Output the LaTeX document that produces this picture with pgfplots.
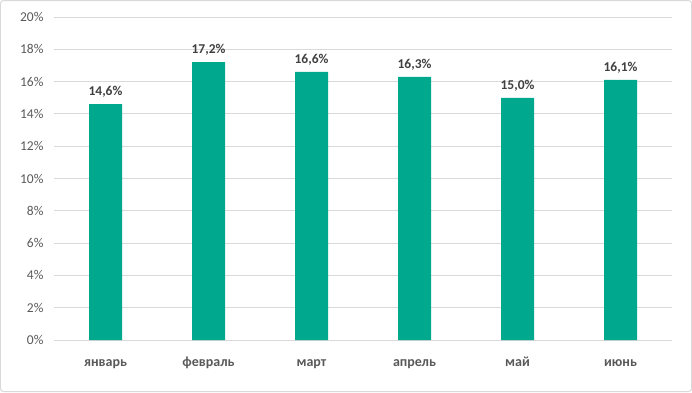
\documentclass[border=0pt]{standalone}
\usepackage{pgfplots}
\pgfplotsset{compat=1.18}
\usepackage{fontspec}
\setmainfont{Carlito}
\definecolor{barc}{RGB}{0,168,142}
\definecolor{tickc}{RGB}{89,89,89}
\definecolor{labc}{RGB}{64,64,64}
\definecolor{gridc}{RGB}{217,217,217}
\begin{document}
\begin{tikzpicture}
\begin{axis}[
  scale only axis, width=618pt, height=323pt,
  at={(0,0)}, anchor=south west,
  xmin=-0.5, xmax=5.5, ymin=0, ymax=20,
  xtick={0,1,2,3,4,5},
  xticklabels={январь,февраль,март,апрель,май,июнь},
  ytick={0,2,4,6,8,10,12,14,16,18,20},
  yticklabel={\pgfmathprintnumber{\tick}\%},
  /pgf/number format/assume math mode=true,
  major tick length=0pt,
  axis line style={draw=none},
  ymajorgrids=true, xmajorgrids=false,
  y grid style={draw=gridc, line width=0.9pt},
  yticklabel style={font=\fontsize{13.5}{15}\selectfont, text=tickc, xshift=-7pt},
  xticklabel style={font=\fontsize{14}{16}\selectfont\bfseries, text=tickc, anchor=base, yshift=-26pt},
  clip=false,
]
\addplot[ybar, bar width=33pt, fill=barc, draw=none,
  nodes near coords={\pgfmathprintnumber[fixed,fixed zerofill,precision=1,use comma]{\pgfplotspointmeta}\%},
  every node near coord/.append style={font=\fontsize{13.5}{15}\selectfont\bfseries, text=labc, anchor=south, yshift=3pt}]
  coordinates {(0,14.6) (1,17.2) (2,16.6) (3,16.3) (4,15.0) (5,16.1)};
\end{axis}
\draw[gridc, line width=1pt, rounded corners=3pt] (-53.5pt,-51.5pt) rectangle (637.5pt,339.5pt);
\end{tikzpicture}
\end{document}
